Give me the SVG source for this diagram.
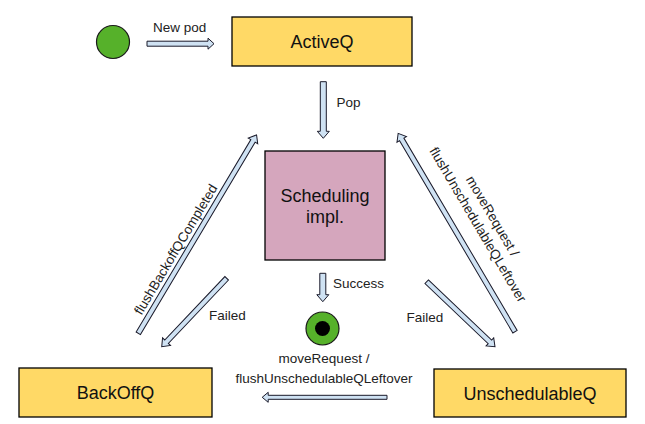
<svg xmlns="http://www.w3.org/2000/svg" width="645" height="424" viewBox="0 0 645 424">
<style>
.box{stroke:#000;stroke-width:1.3}
.q{fill:#ffd966}
.big{font-family:"Liberation Sans",Arial,sans-serif;font-size:18px;fill:#111;text-anchor:middle}
.lbl{font-family:"Liberation Sans",Arial,sans-serif;font-size:13.5px;fill:#222}
.mid{text-anchor:middle}
.arr{fill:#cfe2f3;stroke:#1a1a2a;stroke-width:1}
</style>
<rect width="645" height="424" fill="#fff"/>
<g id="start"><circle cx="113" cy="42" r="16.5" fill="#56b12a" stroke="#1a1a1a" stroke-width="1.2"/></g>
<g id="activeq"><rect class="box q" x="232" y="17" width="180" height="49"/><text class="big" x="322" y="48">ActiveQ</text></g>
<g id="scheduling"><rect class="box" x="265" y="151" width="120" height="109" fill="#d5a6bd"/><text class="big" x="325" y="202">Scheduling</text><text class="big" x="325" y="223">impl.</text></g>
<g id="end"><circle cx="322.5" cy="328.5" r="16.5" fill="#56b12a" stroke="#1a1a1a" stroke-width="1.2"/><circle cx="322.5" cy="328.5" r="7.5" fill="#000"/></g>
<g id="backoffq"><rect class="box q" x="19" y="368" width="193" height="49"/><text class="big" x="115.5" y="399">BackOffQ</text></g>
<g id="unschedulableq"><rect class="box q" x="434" y="369" width="192" height="48"/><text class="big" x="530" y="400">UnschedulableQ</text></g>
<g id="connectors">
<path class="arr" transform="translate(147,43.7)" d="M0,-2.5H61V-5.5L67,0L61,5.5V2.5H0Z"/>
<path class="arr" transform="translate(323.3,81.7) rotate(90)" d="M0,-3H49.6V-6L56.6,0L49.6,6V3H0Z"/>
<path class="arr" transform="translate(322.8,273.3) rotate(90)" d="M0,-3H21.4V-6L28.4,0L21.4,6V3H0Z"/>
<path class="arr" transform="translate(138.3,333.3) rotate(-59.2)" d="M0,-2.5H224V-5.5L231,0L224,5.5V2.5H0Z"/>
<path class="arr" transform="translate(226.7,278.3) rotate(133.5)" d="M0,-2.5H87.4V-5.5L94.4,0L87.4,5.5V2.5H0Z"/>
<path class="arr" transform="translate(515,331.7) rotate(-120.5)" d="M0,-2.5H223.2V-5.5L230.2,0L223.2,5.5V2.5H0Z"/>
<path class="arr" transform="translate(426.7,281.7) rotate(43.6)" d="M0,-2.5H87.3V-5.5L94.3,0L87.3,5.5V2.5H0Z"/>
<path class="arr" transform="translate(387,397.3) rotate(180)" d="M0,-2H118.8V-5L124.8,0L118.8,5V2H0Z"/>
<text class="lbl" x="153" y="32">New pod</text>
<text class="lbl" x="336.5" y="107">Pop</text>
<text class="lbl" x="333" y="288">Success</text>
<text class="lbl" x="209" y="320">Failed</text>
<text class="lbl" x="406.5" y="322">Failed</text>
<text class="lbl mid" transform="translate(179.7,251.8) rotate(-59.2)">flushBackoffQCompleted</text>
<g transform="translate(474,227) rotate(59.5)"><text class="lbl mid" x="0" y="-17">moveRequest /</text><text class="lbl mid" x="0" y="0">flushUnschedulableQLeftover</text></g>
<text class="lbl mid" x="324" y="363">moveRequest /</text>
<text class="lbl mid" x="324" y="383">flushUnschedulableQLeftover</text>
</g>
</svg>
